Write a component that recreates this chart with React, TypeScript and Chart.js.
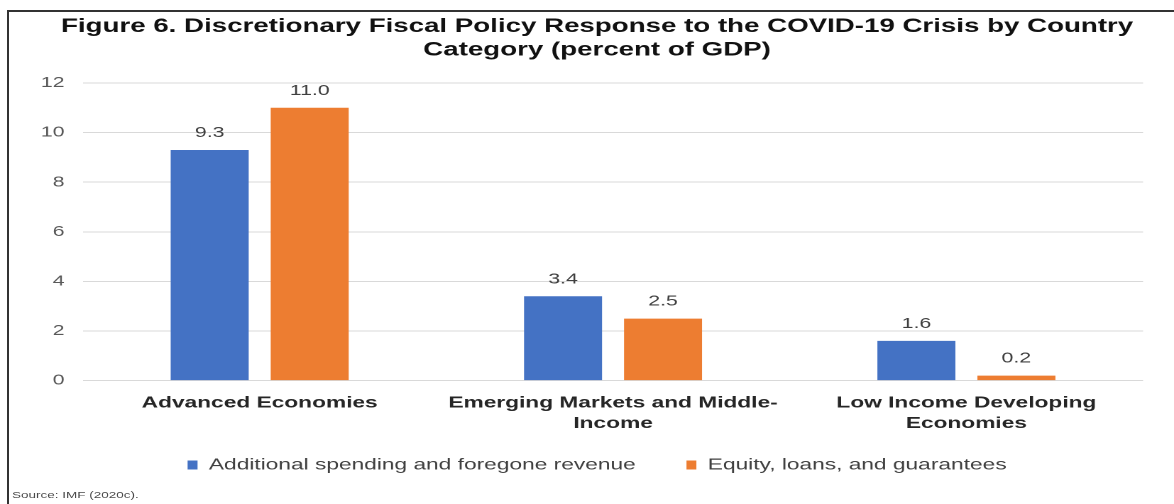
import React, { useEffect, useRef } from "react";
import { Chart, registerables } from "chart.js";

Chart.register(...registerables);

// ---- data ----
const categories: string[][] = [
  ["Advanced Economies"],
  ["Emerging Markets and Middle-", "Income"],
  ["Low Income Developing", "Economies"],
];
const seriesNames = [
  "Additional spending and foregone revenue",
  "Equity, loans, and guarantees",
];
const spendingValues = [9.3, 3.4, 1.6];
const equityValues = [11.0, 2.5, 0.2];
const yMin = 0;
const yMax = 12;
const yStep = 2;
const titleLines = [
  "Figure 6. Discretionary Fiscal Policy Response to the COVID-19 Crisis by Country",
  "Category (percent of GDP)",
];
const sourceNote = "Source: IMF (2020c).";

// ---- layout / style ----
const PAGE_W = 1174;
const PAGE_H = 504;
const INNER_W = 827;
const SX = PAGE_W / INNER_W;
const FONT = "'Liberation Sans', Arial, Helvetica, sans-serif";
const BLUE = "#4472C4";
const ORANGE = "#ED7D31";

const valueLabels = {
  id: "valueLabels",
  afterDatasetsDraw(chart: any) {
    const ctx = chart.ctx;
    ctx.save();
    ctx.font = `15px ${FONT}`;
    ctx.fillStyle = "#404040";
    ctx.textAlign = "center";
    ctx.textBaseline = "alphabetic";
    chart.data.datasets.forEach((ds: any, i: number) => {
      const meta = chart.getDatasetMeta(i);
      meta.data.forEach((bar: any, j: number) => {
        const v = ds.data[j] as number;
        ctx.fillText(v.toFixed(1), bar.x, bar.y - 13);
      });
    });
    ctx.restore();
  },
};

export default function App() {
  const ref = useRef<HTMLCanvasElement | null>(null);

  useEffect(() => {
    if (!ref.current) return;
    const chart = new Chart(ref.current, {
      type: "bar",
      data: {
        labels: categories,
        datasets: [
          {
            label: seriesNames[0],
            data: spendingValues,
            backgroundColor: BLUE,
            categoryPercentage: 0.566,
            barPercentage: 0.78,
          },
          {
            label: seriesNames[1],
            data: equityValues,
            backgroundColor: ORANGE,
            categoryPercentage: 0.566,
            barPercentage: 0.78,
          },
        ],
      },
      options: {
        animation: false,
        responsive: true,
        maintainAspectRatio: false,
        devicePixelRatio: 2,
        layout: { padding: { left: 20, right: 5.8, top: 0, bottom: 21 } },
        plugins: {
          title: {
            display: true,
            text: titleLines,
            color: "#111111",
            font: { family: FONT, size: 19.5, weight: "bold", lineHeight: 1.2 },
            padding: { top: 15, bottom: 21.2 },
          },
          legend: {
            display: true,
            position: "bottom",
            labels: {
              color: "#404040",
              font: { family: FONT, size: 16 },
              boxWidth: 7,
              boxHeight: 9,
              padding: 22.4,
              generateLabels(chart: any) {
                const items = Chart.defaults.plugins.legend.labels.generateLabels(chart);
                return items.map((it: any, i: number) =>
                  i < items.length - 1 ? { ...it, text: it.text + "   " } : it
                );
              },
            },
          },
          tooltip: { enabled: false },
        },
        scales: {
          x: {
            grid: { display: false, drawTicks: false },
            border: { display: false },
            ticks: {
              color: "#262626",
              font: { family: FONT, size: 16, weight: "bold", lineHeight: 1.3 },
              padding: 12,
              autoSkip: false,
              maxRotation: 0,
              minRotation: 0,
            },
            afterFit(scale: any) {
              scale.height = 54;
            },
          },
          y: {
            min: yMin,
            max: yMax,
            grid: { color: "#D9D9D9", lineWidth: 1, drawTicks: false },
            border: { display: false },
            ticks: {
              stepSize: yStep,
              color: "#595959",
              font: { family: FONT, size: 15 },
              padding: 13,
            },
            afterFit(scale: any) {
              scale.width = 38.47;
            },
          },
          yRight: {
            type: "linear",
            position: "right",
            display: true,
            grid: { display: false, drawTicks: false },
            border: { display: false },
            ticks: { display: false },
            afterFit(scale: any) {
              scale.width = 16;
            },
          },
        },
      },
      plugins: [valueLabels],
    });
    return () => chart.destroy();
  }, []);

  return (
    <div
      style={{
        position: "fixed",
        left: 0,
        top: 0,
        width: PAGE_W,
        height: PAGE_H,
        overflow: "hidden",
        background: "#ffffff",
      }}
    >
      <div
        style={{
          position: "absolute",
          left: 7,
          top: 10,
          width: 1400,
          height: 700,
          borderTop: "2px solid #333333",
          borderLeft: "2px solid #333333",
        }}
      />
      <div
        style={{
          position: "absolute",
          left: 0,
          top: 0,
          width: INNER_W,
          height: PAGE_H,
          transform: `scaleX(${SX})`,
          transformOrigin: "0 0",
        }}
      >
        <canvas ref={ref} style={{ display: "block" }} />
        <div
          style={{
            position: "absolute",
            left: 8.5,
            top: 488,
            fontFamily: FONT,
            fontSize: 9.5,
            lineHeight: "14px",
            color: "#4a4a4a",
            whiteSpace: "nowrap",
          }}
        >
          {sourceNote}
        </div>
      </div>
    </div>
  );
}
